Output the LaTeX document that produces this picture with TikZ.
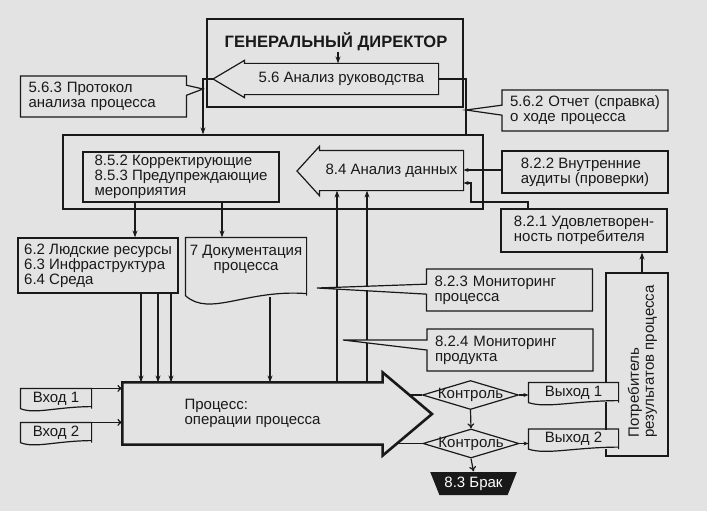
\documentclass[tikz,border=0pt]{standalone}
\usepackage{fontspec}
\setmainfont{Liberation Sans}
\usetikzlibrary{shapes.geometric,shapes.callouts,arrows.meta,calc}
\definecolor{bg}{gray}{0.89}
\definecolor{ink}{gray}{0.1}
\begin{document}
\begin{tikzpicture}[x=1pt, y=-1pt, line width=1.2pt, color=ink,
  >={Stealth[length=7pt,width=5pt]},
  txt/.style={font=\fontsize{15}{15}\selectfont, align=left, inner sep=0pt},
  box/.style={txt, rectangle, draw, fill=bg},
  callbox/.style={box, rectangle callout, callout pointer width=10pt, inner xsep=8pt, text width=150pt},
  blank/.style={txt, rectangle},
  ctl/.style={diamond, draw, fill=bg, inner sep=0pt, minimum width=96pt, minimum height=29pt},
  openarrow/.style={-{To[length=5pt,width=7pt]}},
  smallarrow/.style={-{Stealth[length=5pt,width=4pt]}}]
\fill[bg] (0,0) rectangle (707,511);
\useasboundingbox (0,0) rectangle (707,511);
% director and management review
\node[box, minimum width=256pt, minimum height=88pt] (dir) at (335,63) {};
\node[txt, font=\fontsize{16.5}{18}\selectfont\bfseries] (dirname) at (336,42) {ГЕНЕРАЛЬНЫЙ ДИРЕКТОР};
\node[blank, minimum width=193pt, minimum height=30pt] (a56) at (341.5,79) {5.6 Анализ руководства};
\coordinate (t56) at (213,79);
\draw (a56.north east) -- (a56.north west) -- ++(0,-3) -- (t56) -- ($(a56.south west)+(0,3)$) -- (a56.south west) -- (a56.south east) -- cycle;
\draw[->] (dirname.south -| 338,0) -- (a56.north -| 338,0);
% improvement block
\node[box, minimum width=420pt, minimum height=74pt] (corr) at (273,172) {};
\coordinate (j56) at (203,79);
\draw[->] (t56) -- (j56) -- (j56 |- corr.north);
\coordinate (j562) at (466,79);
\draw (a56.east) -- (j562) -- (j562 |- corr.north);
\coordinate (p563) at (203,89);
\node[callbox, minimum width=165pt, minimum height=41pt, callout absolute pointer={(p563)}] (c563) at (103.5,96.5) {5.6.3 Протокол\\анализа процесса};
\coordinate (p562) at (466,110);
\node[callbox, minimum width=166pt, minimum height=41pt, callout absolute pointer={(p562)}] (c562) at (585,110.5) {5.6.2 Отчет (справка)\\о ходе процесса};
\node[box, minimum width=196pt, minimum height=50pt] (p852) at (181,177) {8.5.2 Корректирующие\\8.5.3 Предупреждающие\\мероприятия};
\node[blank, minimum width=143pt, minimum height=39pt] (a84) at (391.5,170.5) {8.4 Анализ данных};
\coordinate (t84) at (297,171);
\draw (a84.north east) -- (a84.north west) -- ++(0,-4) -- (t84) -- ($(a84.south west)+(0,5)$) -- (a84.south west) -- (a84.south east) -- cycle;
\node[box, minimum width=166pt, minimum height=42pt] (b822) at (585,172) {8.2.2 Внутренние\\аудиты (проверки)};
\draw[smallarrow] (b822.west |- 0,170) -- (a84.east |- 0,170);
\node[box, minimum width=166pt, minimum height=43pt] (b821) at (584,230.5) {8.2.1 Удовлетворен-\\ность потребителя};
\coordinate (j821) at (528,202);
\coordinate (k821) at (471,183);
\draw[smallarrow] (b821.north -| j821) -- (j821) -| (k821) -- (k821 -| a84.east);
% resources and documents
\node[box, minimum width=160pt, minimum height=55pt] (res) at (98,265.5) {6.2 Людские ресурсы\\6.3 Инфраструктура\\6.4 Среда};
\node[blank, minimum width=120pt, minimum height=57pt] (doc) at (246,266.5) {};
\node[txt, align=center] (doctxt) at (246,259.5) {7 Документация\\процесса};
\draw[->] (p852.south -| 135,0) -- (res.north -| 135,0);
\draw[->] (p852.south -| 222,0) -- (doc.north -| 222,0);
% process
\node[txt, minimum width=259pt, minimum height=61pt] (proc) at (252.5,413.5) {Процесс:\\операции процесса};
\coordinate (ptip) at (432,414);
\draw[line width=2.6pt, line join=miter] (proc.north east) -- (proc.north west) -- (proc.south west) -- (proc.south east) -- ++(0,11) -- (ptip) -- ($(proc.north east)+(0,-10)$) -- cycle;
\foreach \xx in {141,158,171} \draw[->] (res.south -| \xx,0) -- (proc.north -| \xx,0);
\coordinate (d7) at (270,297);
\draw[->] (d7) -- (d7 |- proc.north);
\foreach \xx in {337,367} \draw[->] (proc.north -| \xx,0) -- (a84.south -| \xx,0);
\coordinate (p823) at (317,288);
\node[callbox, minimum width=165pt, minimum height=42pt, callout absolute pointer={(p823)}] (c823) at (509.5,290) {8.2.3 Мониторинг\\процесса};
\coordinate (p824) at (343,340);
\node[callbox, minimum width=166pt, minimum height=42pt, callout absolute pointer={(p824)}] (c824) at (510,350) {8.2.4 Мониторинг\\продукта};
% control
\coordinate (e1) at (409,395);
\coordinate (e2) at (397,443.5);
\node[ctl, label={[txt]center:Контроль}] (ctl1) at (470.5,395) {};
\node[ctl, label={[txt]center:Контроль}] (ctl2) at (471,443.5) {};
\draw (e1) -- (ctl1.west);
\draw (e2) -- (ctl2.west);
\draw[openarrow] (ctl1.south) -- (ctl2.north);
\node[txt, trapezium, shape border rotate=180, trapezium stretches=true, fill=ink, text=white, minimum width=87pt, minimum height=23pt] (brak) at (473.5,483.5) {8.3 Брак};
\draw[openarrow] (ctl2.south) -- (brak.north);
% consumer
\node[box, minimum width=62pt, minimum height=183pt] (cons) at (637,364.5) {};
\node[txt, rotate=90] (constxt) at (642.5,361.5) {Потребитель\\результатов процесса};
\draw[->] (cons.north -| 642,0) -- (b821.south -| 642,0);
\node[blank, fill=bg, minimum width=89pt, minimum height=19pt] (out1) at (573.5,392.5) {Выход 1};
\node[blank, fill=bg, minimum width=89pt, minimum height=19pt] (out2) at (573.5,439) {Выход 2};
\draw[smallarrow] (ctl1.east) -- (ctl1.east -| out1.west);
\draw[smallarrow] (ctl2.east) -- (ctl2.east -| out2.west);
% inputs
\node[blank, minimum width=70pt, minimum height=19pt] (in1) at (56,398.5) {Вход 1};
\node[blank, minimum width=70pt, minimum height=19pt] (in2) at (56,432.5) {Вход 2};
\draw[openarrow] (in1.north east) -- (in1.north east -| proc.west);
\draw[openarrow] (in2.north east) -- (in2.north east -| proc.west);
\foreach \n/\d in {doc/22, in1/6, in2/6, out1/6, out2/6}
  \draw (\n.south east) -- (\n.north east) -- (\n.north west) -- (\n.south west)
    .. controls ($(\n.south west)!0.2!(\n.south east)+(0,\d)$) and ($(\n.south west)!0.5!(\n.south east)+(0,-0.3*\d)$) .. ($(\n.south east)+(0,-2)$) -- (\n.south east);
\end{tikzpicture}
\end{document}
